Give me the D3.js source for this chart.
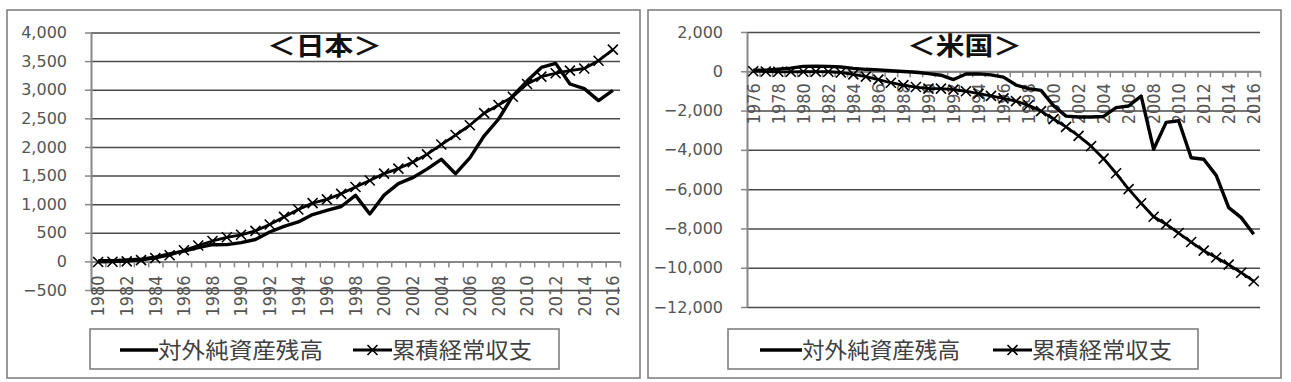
<!DOCTYPE html>
<html><head><meta charset="utf-8">
<script src="https://cdn.jsdelivr.net/npm/d3@7"></script>
<style>
html,body{margin:0;padding:0;background:#fff;}
svg{display:block;}
</style></head>
<body>
<svg id="chart" width="1291" height="382"></svg>
<script>
// ---------- DATA ----------
const seriesNames = ["対外純資産残高", "累積経常収支"];

const jpYears = d3.range(1980, 2017);
const jpNetAssets = [12, 11, 25, 37, 74, 130, 180, 241, 292, 293, 328, 383, 514, 611, 689, 818, 891, 959, 1154, 829,
  1158, 1360, 1463, 1613, 1784, 1532, 1808, 2195, 2484, 2891, 3151, 3390, 3460, 3100, 3020, 2810, 2990];
const jpCumCA = [-11, -6, 1, 22, 57, 108, 194, 278, 357, 421, 465, 533, 645, 777, 907, 1018, 1084, 1181, 1300, 1414,
  1534, 1622, 1734, 1870, 2042, 2208, 2379, 2590, 2732, 2878, 3099, 3228, 3288, 3334, 3371, 3507, 3701];
const jpYTicks = [-500, 0, 500, 1000, 1500, 2000, 2500, 3000, 3500, 4000];

const usYears = d3.range(1976, 2017);
const usNetAssets = [50, 60, 110, 160, 250, 260, 250, 220, 150, 100, 70, 30, -10, -50, -120, -200, -420, -140, -130, -180,
  -300, -700, -880, -970, -1750, -2280, -2330, -2330, -2300, -1850, -1765, -1256, -3970, -2600, -2520, -4400, -4480, -5300, -6940, -7450, -8300];
const usCumCA = [4, -10, -25, -25, -23, -18, -24, -62, -157, -275, -422, -583, -704, -803, -882, -880, -931, -1016, -1138, -1251,
  -1376, -1517, -1732, -2027, -2438, -2833, -3291, -3813, -4447, -5192, -5998, -6717, -7404, -7784, -8234, -8692, -9132, -9481, -9846, -10254, -10687];
const usYTicks = [-12000, -10000, -8000, -6000, -4000, -2000, 0, 2000];

const titles = ["＜日本＞", "＜米国＞"];

// ---------- DRAW ----------
const svg = d3.select("#chart");
const fmt = d3.format(",");
const GRID = "#4a4a4a", AXIS = "#888", TXT = "#555";

function panel(cfg) {
  const g = svg.append("g");
  g.append("rect").attr("x", cfg.frame[0]).attr("y", cfg.frame[1])
    .attr("width", cfg.frame[2]).attr("height", cfg.frame[3])
    .attr("fill", "#fff").attr("stroke", "#808080").attr("stroke-width", 1.6);

  const x = d3.scaleBand().domain(cfg.years).range([cfg.x0, cfg.x1]).padding(0);
  const xb = d3.scaleLinear().domain([0, cfg.years.length]).range([cfg.x0, cfg.x1]);
  const y = d3.scaleLinear().domain(cfg.yDomain).range([cfg.yBottom, cfg.yTop]);
  const cx = d => x(d) + x.bandwidth() / 2;

  // gridlines
  g.append("g").attr("transform", `translate(${cfg.x0},0)`)
    .call(d3.axisLeft(y).tickValues(cfg.yTicks).tickSize(-(cfg.x1 - cfg.x0)).tickFormat(""))
    .call(s => s.select(".domain").remove())
    .call(s => s.selectAll("line").attr("stroke", GRID).attr("stroke-width", 1.5));

  // y axis
  const ya = g.append("g").attr("transform", `translate(${cfg.x0},0)`)
    .call(d3.axisLeft(y).tickValues(cfg.yTicks).tickSize(6).tickSizeOuter(0).tickPadding(18).tickFormat(fmt));
  ya.select(".domain").attr("stroke", AXIS).attr("stroke-width", 2);
  ya.selectAll("line").attr("stroke", AXIS).attr("stroke-width", 1.5);
  ya.selectAll("text").attr("fill", TXT).attr("font-family", "DejaVu Sans").attr("font-size", 16);

  // x axis line + boundary ticks
  const y0 = y(0);
  const xt = g.append("g").attr("transform", `translate(0,${y0})`)
    .call(d3.axisBottom(xb).tickValues(d3.range(cfg.years.length + 1)).tickSize(6).tickSizeOuter(0).tickFormat(""));
  xt.select(".domain").attr("stroke", AXIS).attr("stroke-width", 2);
  xt.selectAll("line").attr("stroke", AXIS).attr("stroke-width", 1.5);

  // x labels
  const xl = g.append("g").attr("transform", `translate(0,${y0})`)
    .call(d3.axisBottom(x).tickValues(cfg.years.filter((d, i) => i % 2 === 0)).tickSize(0));
  xl.select(".domain").remove();
  xl.selectAll("text")
    .attr("transform", "rotate(-90)")
    .attr("x", -cfg.labelOffset).attr("y", 0).attr("dy", "0.37em")
    .attr("text-anchor", "end")
    .attr("fill", TXT).attr("font-family", "DejaVu Sans").attr("font-size", 17)
    .attr("textLength", 41).attr("lengthAdjust", "spacingAndGlyphs");

  // series
  const line = vals => d3.line().x((d, i) => cx(cfg.years[i])).y(d => y(d))(vals);
  g.append("path").attr("d", line(cfg.net)).attr("fill", "none")
    .attr("stroke", "#000").attr("stroke-width", 3.4).attr("stroke-linejoin", "round");
  g.append("path").attr("d", line(cfg.cum)).attr("fill", "none")
    .attr("stroke", "#000").attr("stroke-width", 2.8).attr("stroke-linejoin", "round");
  g.append("g").selectAll("path").data(cfg.cum).join("path")
    .attr("transform", (d, i) => `translate(${cx(cfg.years[i])},${y(d)})`)
    .attr("d", "M-5,-5L5,5M-5,5L5,-5")
    .attr("stroke", "#000").attr("stroke-width", 1.6).attr("fill", "none");

  // title
  g.append("text").attr("x", cfg.titleX).attr("y", 46).attr("dy", "0.36em")
    .attr("text-anchor", "middle")
    .attr("font-family", "Noto Sans CJK JP").attr("font-weight", "bold").attr("font-size", 25)
    .attr("textLength", 115).attr("lengthAdjust", "spacingAndGlyphs")
    .attr("fill", "#111").text(cfg.title);

  // legend
  const L = cfg.legend;
  g.append("rect").attr("x", L.x).attr("y", 329).attr("width", L.w).attr("height", 40)
    .attr("fill", "#fff").attr("stroke", "#808080").attr("stroke-width", 1.6);
  const ly = 350;
  g.append("line").attr("x1", L.s1[0]).attr("x2", L.s1[1]).attr("y1", ly).attr("y2", ly)
    .attr("stroke", "#000").attr("stroke-width", 3.4);
  g.append("text").attr("x", L.s1[1]).attr("y", ly).attr("dy", "0.36em")
    .attr("font-family", "Noto Sans CJK JP").attr("font-size", 22).attr("fill", "#404040")
    .attr("textLength", L.t1).attr("lengthAdjust", "spacingAndGlyphs").text(seriesNames[0]);
  g.append("line").attr("x1", L.s2[0]).attr("x2", L.s2[1]).attr("y1", ly).attr("y2", ly)
    .attr("stroke", "#000").attr("stroke-width", 2.8);
  g.append("path").attr("transform", `translate(${(L.s2[0] + L.s2[1]) / 2},${ly})`)
    .attr("d", "M-5,-5L5,5M-5,5L5,-5").attr("stroke", "#000").attr("stroke-width", 1.6);
  g.append("text").attr("x", L.s2[1]).attr("y", ly).attr("dy", "0.36em")
    .attr("font-family", "Noto Sans CJK JP").attr("font-size", 22).attr("fill", "#404040")
    .attr("textLength", L.t2).attr("lengthAdjust", "spacingAndGlyphs").text(seriesNames[1]);
}

panel({
  frame: [7, 10, 633, 368],
  years: jpYears, net: jpNetAssets, cum: jpCumCA,
  x0: 91, x1: 620, yTop: 32.5, yBottom: 290, yDomain: [-500, 4000], yTicks: jpYTicks,
  labelOffset: 14, title: titles[0], titleX: 324.5,
  legend: { x: 90, w: 469, s1: [120, 158], t1: 165, s2: [353, 392], t2: 140 }
});
panel({
  frame: [648, 10, 633, 368],
  years: usYears, net: usNetAssets, cum: usCumCA,
  x0: 747, x1: 1260, yTop: 32, yBottom: 307, yDomain: [-12000, 2000], yTicks: usYTicks,
  labelOffset: 12, title: titles[1], titleX: 964.5,
  legend: { x: 728, w: 470, s1: [760, 802], t1: 158, s2: [993, 1032], t2: 140 }
});
</script>
</body></html>
